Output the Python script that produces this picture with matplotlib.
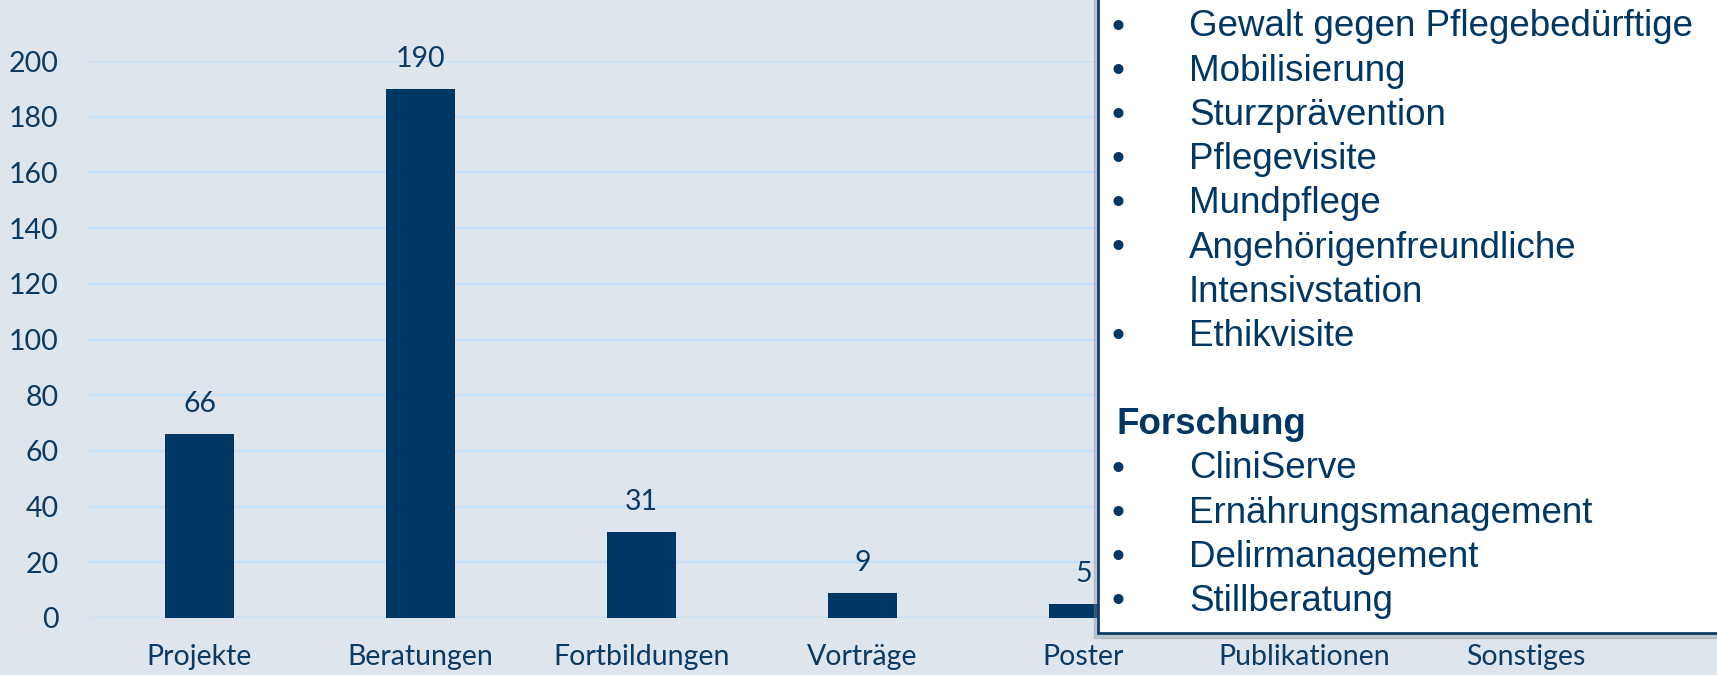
import matplotlib.pyplot as plt
from matplotlib.patches import Rectangle

# Daten
kategorien = ["Projekte", "Beratungen", "Fortbildungen", "Vorträge", "Poster", "Publikationen", "Sonstiges"]
werte = [66, 190, 31, 9, 5, 6, 10]  # die letzten beiden liegen unter dem Kasten

projekte_liste = ["Gewalt gegen Pflegebedürftige", "Mobilisierung", "Sturzprävention",
                  "Pflegevisite", "Mundpflege", "Angehörigenfreundliche\nIntensivstation",
                  "Ethikvisite"]
forschung_liste = ["CliniServe", "Ernährungsmanagement", "Delirmanagement", "Stillberatung"]

bg = "#dee5ed"
navy = "#003764"
txt = "#0b3a63"

fig = plt.figure(figsize=(17.17, 6.75), dpi=100, facecolor=bg)
ax = fig.add_axes([89/1717, 57/675, 1547/1717, 557/675])
ax.set_facecolor(bg)

x = list(range(len(kategorien)))
ax.bar(x, werte, width=0.31, color=navy, zorder=2)
for xi, v in zip(x, werte):
    ax.annotate(str(v), (xi, v), xytext=(0, 21.5), textcoords="offset points",
                ha="center", va="center", fontsize=20.5, color=txt, family="Lato")

ax.set_xlim(-0.5, len(kategorien) - 0.5)
ax.set_ylim(0, 200)
ax.set_yticks(range(0, 201, 20))
ax.grid(axis="y", color="#c4e1fb", linewidth=1.6, zorder=0)
ax.set_xticks(x)
ax.set_xticklabels(kategorien)
ax.tick_params(length=0, labelsize=20.5, labelcolor=txt)
ax.tick_params(axis="x", pad=19)
ax.tick_params(axis="y", pad=22)
for lab in ax.get_xticklabels() + ax.get_yticklabels():
    lab.set_family("Lato")
for s in ax.spines.values():
    s.set_visible(False)

# Kasten mit Schatten
W, H = 1717, 675
fig.patches.append(Rectangle(((1098 - 4) / W, (675 - 633 - 5) / H), 0.5, 1.2,
                             transform=fig.transFigure, color="#7f8a96", alpha=0.35, zorder=5))
fig.patches.append(Rectangle((1098 / W, (675 - 633) / H), 0.5, 1.2, transform=fig.transFigure,
                             facecolor="white", edgecolor="#0f3d66", linewidth=2, zorder=6))

# Text im Kasten
zeilen = []
for p in projekte_liste:
    teile = p.split("\n")
    zeilen.append(("•", teile[0]))
    for t in teile[1:]:
        zeilen.append(("", t))
zeilen.append(("", ""))
zeilen.append(("head", "Forschung"))
for f in forschung_liste:
    zeilen.append(("•", f))

y0 = 27
dy = 44.2
fs = 26.5
for i, (b, t) in enumerate(zeilen):
    y = 1 - (y0 + i * dy) / H
    if b == "head":
        fig.text(1116 / W, y, t, fontsize=fs, fontweight="bold", color=navy,
                 family="Liberation Sans", va="center", zorder=7)
        continue
    if b:
        fig.text(1111 / W, y, b, fontsize=fs, color=navy, family="Liberation Sans",
                 va="center", zorder=7)
    fig.text(1189 / W, y, t, fontsize=fs, color=navy, family="Liberation Sans",
             va="center", zorder=7)

fig.savefig("out.png", facecolor=bg)
